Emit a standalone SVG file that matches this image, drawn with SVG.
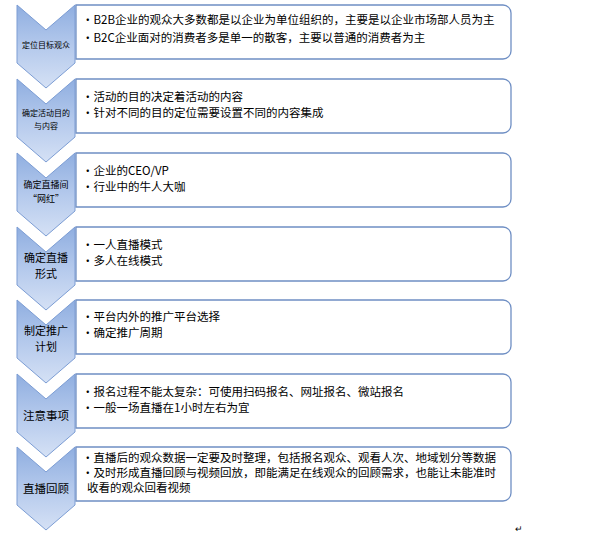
<svg xmlns="http://www.w3.org/2000/svg" width="604" height="539" viewBox="0 0 604 539">
<defs>
<linearGradient id="g" x1="0" y1="0" x2="0" y2="1"><stop offset="0" stop-color="#8faee0"/><stop offset="0.5" stop-color="#b4c9ec"/><stop offset="1" stop-color="#d5e1f5"/></linearGradient>
<path id="chev" d="M17,0 L46,25 L75,0 L75,58 L46,83 L17,58 Z"/>
<path id="box" d="M76,0 H503 A8,8 0 0 1 511,8 V46 A8,8 0 0 1 503,54 H76 Z"/>
</defs>
<style>
.c{fill:url(#g);stroke:#7c9dd4;stroke-width:1}
.b{fill:#fff;stroke:#6f8fc4;stroke-width:1.3}
text{font-family:"Noto Sans CJK SC","Liberation Sans",sans-serif;fill:#000}
.t{font-size:11.5px}
.l{text-anchor:middle}
</style>
<rect width="604" height="539" fill="#fff"/>
<g id="n1" transform="translate(0,5)"><use href="#chev" class="c"/><use href="#box" class="b"/>
<text class="l" x="46" y="43" font-size="8">定位目标观众</text>
<text class="t" x="82" y="19">•B2B企业的观众大多数都是以企业为单位组织的，主要是以企业市场部人员为主</text>
<text class="t" x="82" y="37">•B2C企业面对的消费者多是单一的散客，主要以普通的消费者为主</text></g>
<g id="n2" transform="translate(0,79)"><use href="#chev" class="c"/><use href="#box" class="b"/>
<text class="l" x="46" y="37" font-size="8">确定活动目的</text><text class="l" x="46" y="50" font-size="8">与内容</text>
<text class="t" x="82" y="22">•活动的目的决定着活动的内容</text>
<text class="t" x="82" y="38">•针对不同的目的定位需要设置不同的内容集成</text></g>
<g id="n3" transform="translate(0,153)"><use href="#chev" class="c"/><use href="#box" class="b"/>
<text class="l" x="46" y="35" font-size="9">确定直播间</text><text class="l" x="46" y="49" font-size="9">“网红”</text>
<text class="t" x="82" y="22">•企业的CEO/VP</text>
<text class="t" x="82" y="38">•行业中的牛人大咖</text></g>
<g id="n4" transform="translate(0,227)"><use href="#chev" class="c"/><use href="#box" class="b"/>
<text class="l" x="46" y="35" font-size="11">确定直播</text><text class="l" x="46" y="51" font-size="11">形式</text>
<text class="t" x="82" y="22">•一人直播模式</text>
<text class="t" x="82" y="38">•多人在线模式</text></g>
<g id="n5" transform="translate(0,300)"><use href="#chev" class="c"/><use href="#box" class="b"/>
<text class="l" x="46" y="35" font-size="11">制定推广</text><text class="l" x="46" y="51" font-size="11">计划</text>
<text class="t" x="82" y="21">•平台内外的推广平台选择</text>
<text class="t" x="82" y="37">•确定推广周期</text></g>
<g id="n6" transform="translate(0,374)"><use href="#chev" class="c"/><use href="#box" class="b"/>
<text class="l" x="46" y="46" font-size="11.5">注意事项</text>
<text class="t" x="82" y="22">•报名过程不能太复杂：可使用扫码报名、网址报名、微站报名</text>
<text class="t" x="82" y="38">•一般一场直播在1小时左右为宜</text></g>
<g id="n7" transform="translate(0,447)"><use href="#chev" class="c"/><use href="#box" class="b"/>
<text class="l" x="46" y="46" font-size="11.5">直播回顾</text>
<text class="t" x="82" y="15">•直播后的观众数据一定要及时整理，包括报名观众、观看人次、地域划分等数据</text>
<text class="t" x="82" y="30">•及时形成直播回顾与视频回放，即能满足在线观众的回顾需求，也能让未能准时</text>
<text class="t" x="87" y="45">收看的观众回看视频</text></g>
<text x="515" y="532" font-size="9" font-family="Liberation Sans,sans-serif" fill="#555">↵</text>
</svg>
